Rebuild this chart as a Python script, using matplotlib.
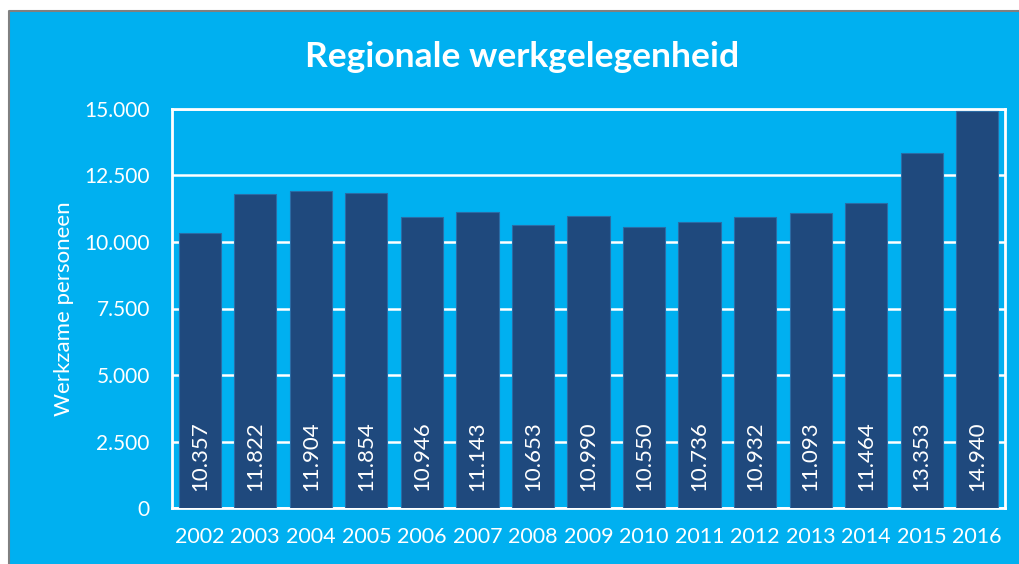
import matplotlib
matplotlib.use('Agg')
import matplotlib.pyplot as plt
from matplotlib.patches import Rectangle
from matplotlib.lines import Line2D

# data
years = ['2002', '2003', '2004', '2005', '2006', '2007', '2008', '2009',
         '2010', '2011', '2012', '2013', '2014', '2015', '2016']
workers = [10357, 11822, 11904, 11854, 10946, 11143, 10653, 10990,
           10550, 10736, 10932, 11093, 11464, 13353, 14940]
yticks = [0, 2500, 5000, 7500, 10000, 12500, 15000]


def dutch(v):
    return f'{v:,}'.replace(',', '.')


BG = '#00B0F0'
BAR = '#1F497D'
FONT = 'Lato'

fig = plt.figure(figsize=(10.2, 5.64), dpi=100)
fig.patch.set_facecolor('white')

# chart background, cropped: gray border only on the left and top
x0, y0 = 9.5 / 1020, 1 - 11 / 564
fig.patches.append(Rectangle((x0, 0), 1 - x0, y0, transform=fig.transFigure,
                             facecolor=BG, edgecolor='none', zorder=-5))
fig.lines.append(Line2D([x0, x0, 1], [0, y0, y0], transform=fig.transFigure,
                        color='#808080', linewidth=1.5, zorder=-4))

ax = fig.add_axes([172 / 1020, 56 / 564, 833 / 1020, 399 / 564])
ax.set_facecolor(BG)

x = list(range(len(years)))
ax.bar(x, workers, width=0.76, color=BAR, edgecolor='#2A6CA6',
       linewidth=0.8, zorder=3)

for xi, v in zip(x, workers):
    ax.annotate(dutch(v), xy=(xi, 0), xytext=(0, 12), textcoords='offset points',
                rotation=90, ha='center', va='bottom', color='white',
                fontsize=16, family=FONT, zorder=4)

ax.set_xlim(-0.5, len(years) - 0.5)
ax.set_ylim(0, 15000)
ax.set_yticks(yticks)
ax.set_yticklabels([dutch(t) for t in yticks], family=FONT, fontsize=15,
                   color='white')
ax.set_xticks(x)
ax.set_xticklabels(years, family=FONT, fontsize=15.5, color='white')
ax.tick_params(length=0)
ax.tick_params(axis='x', pad=14)
ax.tick_params(axis='y', pad=16)

ax.grid(axis='y', color='white', linewidth=1.8, zorder=1)
for s in ax.spines.values():
    s.set_color('white')
    s.set_linewidth(2)

ax.set_ylabel('Werkzame personeen', family=FONT, fontsize=16, color='white')
ax.yaxis.set_label_coords(-0.118, 0.5)

fig.text(522 / 1020, 1 - 57 / 564, 'Regionale werkgelegenheid', ha='center',
         va='center', color='white', fontsize=25.5, fontweight='bold', family=FONT)

fig.savefig('out.png', dpi=100)
